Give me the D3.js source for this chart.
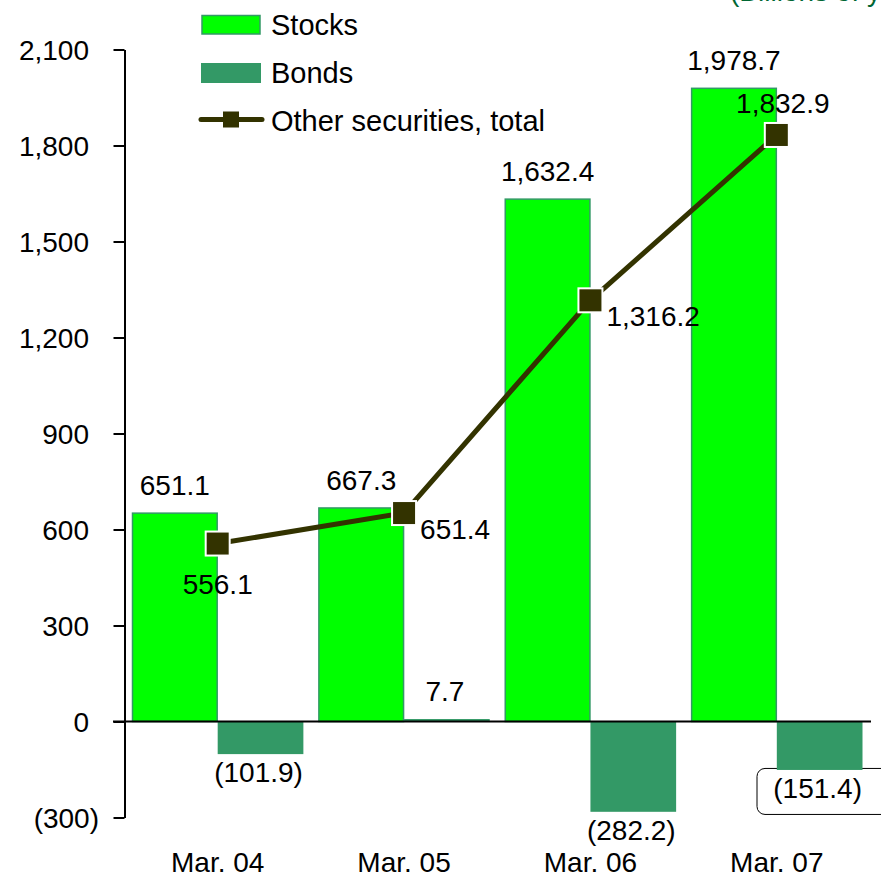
<!DOCTYPE html>
<html>
<head>
<meta charset="utf-8">
<script src="https://cdn.jsdelivr.net/npm/d3@7"></script>
<style>
  html, body { margin: 0; padding: 0; background: #fff; }
  svg { display: block; }
  text { font-family: "Liberation Sans", Arial, sans-serif; fill: #000; }
</style>
</head>
<body>
<svg id="chart" width="881" height="875"></svg>
<script>
// ---- data ----
const categories = ["Mar. 04", "Mar. 05", "Mar. 06", "Mar. 07"];
const stocks = [651.1, 667.3, 1632.4, 1978.7];
const bonds = [-101.9, 7.7, -282.2, -151.4];
const otherTotal = [556.1, 651.4, 1316.2, 1832.9];
const yTicks = [-300, 0, 300, 600, 900, 1200, 1500, 1800, 2100];
const seriesNames = ["Stocks", "Bonds", "Other securities, total"];
const unitLabel = "(Billions of yen)";

// ---- layout / style ----
const lineLabelPlacement = ["below", "right", "right", "above"];
const boxedBondIndex = 3;
const colStocks = "#00ff00", colStocksStroke = "#339966";
const colBonds = "#339966";
const colLine = "#333300";
const fs = 28;

const svg = d3.select("#chart");
const x = d3.scaleBand().domain(categories).range([124.5, 870]).padding(0);
const y = d3.scaleLinear().domain([-300, 2100]).range([817.5, 49.5]);
const inset = 7.5;
const barW = (x.bandwidth() - 2 * inset) / 2;

const fmt = v => {
  const s = d3.format(",.1f")(Math.abs(v));
  return v < 0 ? "(" + s + ")" : s;
};
const fmtTick = v => {
  const s = d3.format(",")(Math.abs(v));
  return v < 0 ? "(" + s + ")" : s;
};

// unit label (mostly cut off at top)
svg.append("text").attr("x", 730).attr("y", 1).attr("font-size", fs)
  .style("fill", "#006633").text(unitLabel);

// boxed label background (under bars)
{
  const i = boxedBondIndex;
  const by = y(Math.min(0, bonds[i]));
  svg.append("rect").attr("x", 757).attr("y", by - 1.5)
    .attr("width", 140).attr("height", 46).attr("rx", 8)
    .attr("fill", "#fff").attr("stroke", "#000").attr("stroke-width", 1);
}

// bars
const g = svg.append("g");
g.selectAll("rect.stock").data(stocks).join("rect")
  .attr("class", "stock")
  .attr("x", (d, i) => x(categories[i]) + inset + 0.5)
  .attr("y", d => y(Math.max(0, d)))
  .attr("width", barW - 1)
  .attr("height", d => Math.abs(y(d) - y(0)))
  .attr("fill", colStocks).attr("stroke", colStocksStroke).attr("stroke-width", 1.5);

g.selectAll("rect.bond").data(bonds).join("rect")
  .attr("class", "bond")
  .attr("x", (d, i) => x(categories[i]) + inset + barW)
  .attr("y", d => y(Math.max(0, d)))
  .attr("width", barW)
  .attr("height", d => Math.abs(y(d) - y(0)))
  .attr("fill", colBonds);

// y axis
const axis = d3.axisLeft(y).tickValues(yTicks).tickSize(11).tickSizeOuter(0).tickFormat(fmtTick);
const ax = svg.append("g").attr("transform", "translate(124.5,0)").call(axis);
ax.select(".domain").attr("stroke", "#000").attr("stroke-width", 2);
ax.selectAll(".tick line").attr("stroke", "#000").attr("stroke-width", 2);
ax.selectAll(".tick text")
  .attr("font-size", fs).attr("font-family", "Liberation Sans, Arial, sans-serif")
  .attr("fill", "#000")
  .attr("x", d => d < 0 ? -25.5 : -35.5)
  .attr("dy", "0.34em");

// zero line
svg.append("line").attr("x1", 113).attr("x2", 871)
  .attr("y1", y(0)).attr("y2", y(0))
  .attr("stroke", "#000").attr("stroke-width", 2);

// category labels
svg.selectAll("text.cat").data(categories).join("text")
  .attr("class", "cat")
  .attr("x", d => x(d) + x.bandwidth() / 2)
  .attr("y", 872)
  .attr("text-anchor", "middle").attr("font-size", fs)
  .text(d => d);

// line
const cx = i => x(categories[i]) + x.bandwidth() / 2;
const line = d3.line().x((d, i) => cx(i)).y(d => y(d));
svg.append("path").datum(otherTotal).attr("d", line)
  .attr("fill", "none").attr("stroke", colLine).attr("stroke-width", 5);
const ms = 24;
svg.selectAll("rect.marker").data(otherTotal).join("rect")
  .attr("class", "marker")
  .attr("x", (d, i) => cx(i) - ms / 2)
  .attr("y", d => y(d) - ms / 2)
  .attr("width", ms).attr("height", ms)
  .attr("fill", colLine).attr("stroke", "#fff").attr("stroke-width", 2);

// stock labels
svg.selectAll("text.slab").data(stocks).join("text")
  .attr("class", "slab")
  .attr("x", (d, i) => x(categories[i]) + inset + barW / 2)
  .attr("y", d => y(d) - 18)
  .attr("text-anchor", "middle").attr("font-size", fs)
  .text(fmt);

// bond labels
svg.selectAll("text.blab").data(bonds).join("text")
  .attr("class", "blab")
  .attr("x", (d, i) => x(categories[i]) + inset + barW * 1.5 - 2)
  .attr("y", d => d < 0 ? y(d) + 28 : y(d) - 18)
  .attr("text-anchor", "middle").attr("font-size", fs)
  .text(fmt);

// line labels
svg.selectAll("text.llab").data(otherTotal).join("text")
  .attr("class", "llab")
  .attr("x", (d, i) => {
    const p = lineLabelPlacement[i];
    return p === "right" ? cx(i) + 16 : cx(i) + (p === "above" ? 6 : 0);
  })
  .attr("y", (d, i) => {
    const p = lineLabelPlacement[i];
    return p === "below" ? y(d) + 50 : p === "right" ? y(d) + 26 : y(d) - 22;
  })
  .attr("text-anchor", (d, i) => lineLabelPlacement[i] === "right" ? "start" : "middle")
  .attr("font-size", fs)
  .text(fmt);

// legend
const lg = svg.append("g");
lg.append("rect").attr("x", 202).attr("y", 15.5).attr("width", 58).attr("height", 18.5)
  .attr("fill", colStocks).attr("stroke", colStocksStroke).attr("stroke-width", 1.5);
lg.append("rect").attr("x", 201).attr("y", 63).attr("width", 60).attr("height", 20)
  .attr("fill", colBonds);
lg.append("line").attr("x1", 201).attr("x2", 262).attr("y1", 119.5).attr("y2", 119.5)
  .attr("stroke", colLine).attr("stroke-width", 5).attr("stroke-linecap", "round");
lg.append("rect").attr("x", 223).attr("y", 111.5).attr("width", 16).attr("height", 16)
  .attr("fill", colLine);
const legY = [35, 83, 131];
lg.selectAll("text").data(seriesNames).join("text")
  .attr("x", 271).attr("y", (d, i) => legY[i])
  .attr("font-size", fs + 1)
  .text(d => d);
</script>
</body>
</html>
